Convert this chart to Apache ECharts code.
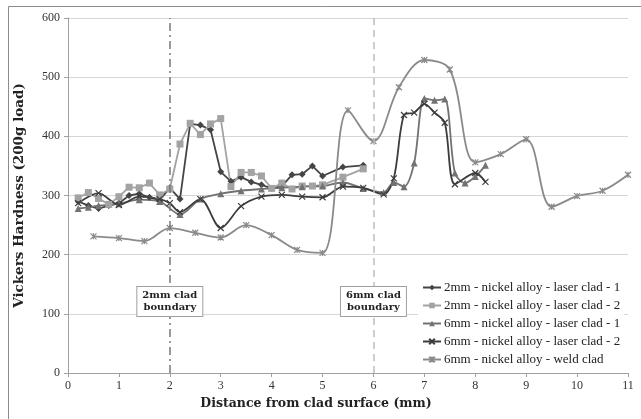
<!DOCTYPE html>
<html><head><meta charset="utf-8">
<script src="https://cdn.jsdelivr.net/npm/echarts@6/dist/echarts.min.js"></script>
<style>html,body{margin:0;padding:0;background:#fff}#c{width:641px;height:419px}</style>
</head><body><div id="c"></div>
<script>
const seriesNames = [
  '2mm - nickel alloy - laser clad - 1',
  '2mm - nickel alloy - laser clad - 2',
  '6mm - nickel alloy - laser clad - 1',
  '6mm - nickel alloy - laser clad - 2',
  '6mm - nickel alloy - weld clad'
];
const ni2_1 = [[0.2,290],[0.4,283],[0.6,278],[0.8,283],[1.0,287],[1.2,300],[1.4,303],[1.6,297],[1.8,292],[2.0,313],[2.2,294],[2.4,421],[2.6,419],[2.8,411],[3.0,340],[3.2,324],[3.4,331],[3.6,323],[3.8,318],[4.0,312],[4.2,316],[4.4,335],[4.6,336],[4.8,350],[5.0,333],[5.4,348],[5.8,351]];
const ni2_2 = [[0.2,296],[0.4,305],[0.6,295],[0.8,285],[1.0,298],[1.2,314],[1.4,313],[1.6,321],[1.8,301],[2.0,311],[2.2,387],[2.4,422],[2.6,403],[2.8,421],[3.0,430],[3.2,315],[3.4,339],[3.6,339],[3.8,333],[4.0,312],[4.2,321],[4.4,311],[4.6,316],[4.8,316],[5.0,318],[5.4,331],[5.8,345]];
const ni6_1 = [[0.2,278],[0.4,280],[0.6,283],[1.0,286],[1.4,293],[1.8,290],[2.2,268],[2.6,294],[3.0,303],[3.4,308],[3.8,311],[4.2,313],[4.6,315],[5.0,316],[5.4,322],[5.8,312],[6.2,305],[6.4,322],[6.6,315],[6.8,355],[7.0,464],[7.2,461],[7.4,463],[7.6,338],[7.8,321],[8.0,332],[8.2,351]];
const ni6_2 = [[0.2,287],[0.6,304],[1.0,284],[1.4,298],[1.8,294],[2.0,287],[2.2,272],[2.6,294],[3.0,245],[3.4,282],[3.8,298],[4.2,301],[4.6,298],[5.0,297],[5.4,315],[5.8,313],[6.2,302],[6.4,329],[6.6,436],[6.8,440],[7.0,455],[7.2,440],[7.4,423],[7.6,319],[8.0,338],[8.2,323]];
const weld = [[0.5,231],[1.0,228],[1.5,223],[2.0,245],[2.5,237],[3.0,229],[3.5,250],[4.0,233],[4.5,208],[5.0,203],[5.5,444],[6.0,392],[6.5,483],[7.0,529],[7.5,513],[8.0,356],[8.5,370],[9.0,395],[9.5,281],[10.0,299],[10.5,308],[11.0,335]];
const boundaries = [2, 6];
const boundaryLabels = ['2mm clad\nboundary', '6mm clad\nboundary'];
const xTicks = [0,1,2,3,4,5,6,7,8,9,10,11];
const yTicks = [0,100,200,300,400,500,600];

const FONT = 'Liberation Serif';
const TITLE_FONT = 'DejaVu Serif';
const X_PATH = 'path://M0,0L10,10M10,0L0,10';
const STAR_PATH = 'path://M0,0L10,10M10,0L0,10M5,0L5,10';

function mk(name, data, color, symbol, size, smooth, lw) {
  const isPath = symbol.indexOf('path') === 0;
  return {
    name, type: 'line', data, smooth: smooth,
    symbol, symbolSize: size,
    lineStyle: { color, width: lw },
    itemStyle: { color: isPath ? 'rgba(0,0,0,0)' : color, borderColor: color, borderWidth: isPath ? 1.2 : 0 },
    z: 3
  };
}

const series = [
  mk(seriesNames[0], ni2_1, '#454545', 'diamond', 7, false, 1.8),
  mk(seriesNames[1], ni2_2, '#a3a3a3', 'rect', 7, false, 1.8),
  mk(seriesNames[2], ni6_1, '#727272', 'triangle', 7, 0.3, 1.8),
  mk(seriesNames[3], ni6_2, '#3c3c3c', X_PATH, 6, 0.3, 1.8),
  mk(seriesNames[4], weld, '#8a8a8a', STAR_PATH, 6, 0.35, 1.8),
  {
    name: 'b2', type: 'line', data: [], silent: true,
    markLine: {
      symbol: 'none', silent: true,
      label: { show: false },
      data: [{ xAxis: boundaries[0], lineStyle: { color: '#7a7a7a', type: [8, 4, 2, 4], width: 1.5 } },
             { xAxis: boundaries[1], lineStyle: { color: '#bdbdbd', type: [7, 5], width: 1.5 } }]
    },
    markPoint: {
      symbol: 'rect', symbolSize: 0,
      label: {
        show: true, fontFamily: TITLE_FONT, fontWeight: 'bold', fontSize: 10, color: '#222',
        lineHeight: 12, backgroundColor: '#fff', borderColor: '#a0a0a0', borderWidth: 1, padding: [3, 5, 2, 5]
      },
      data: [{ coord: [boundaries[0], 121], label: { formatter: boundaryLabels[0] } },
             { coord: [boundaries[1], 121], label: { formatter: boundaryLabels[1] } }]
    },
    z: 2
  }
];

const chart = echarts.init(document.getElementById('c'), null, { renderer: 'canvas' });
chart.setOption({
  animation: false,
  backgroundColor: '#fff',
  graphic: [{ type: 'rect', shape: { x: 8.5, y: 6.5, width: 700, height: 500 }, style: { fill: 'none', stroke: '#8c8c8c', lineWidth: 1 }, z: -10 }],
  grid: { left: 68, right: 13, top: 18, bottom: 46 },
  legend: {
    data: seriesNames, orient: 'vertical', left: 418, top: 279,
    itemWidth: 18, itemHeight: 7, itemGap: 5,
    backgroundColor: '#fff', padding: [2, 4, 2, 4],
    textStyle: { fontFamily: FONT, fontSize: 13, color: '#222', padding: [0, 0, 0, -2] }
  },
  xAxis: {
    type: 'value', min: 0, max: 11, interval: 1,
    name: 'Distance from clad surface (mm)', nameLocation: 'middle', nameGap: 24,
    nameTextStyle: { fontFamily: TITLE_FONT, fontWeight: 'bold', fontSize: 12.5, color: '#222', padding: [0, 64, 0, 0] },
    axisLine: { lineStyle: { color: '#a0a0a0' } },
    axisTick: { show: true, length: 4, lineStyle: { color: '#a0a0a0' } },
    axisLabel: { fontFamily: FONT, fontSize: 12, color: '#333', margin: 7, formatter: v => xTicks.includes(v) ? String(v) : '' },
    splitLine: { show: false }
  },
  yAxis: {
    type: 'value', min: 0, max: 600, interval: 100,
    name: 'Vickers Hardness (200g load)', nameLocation: 'middle', nameGap: 42,
    nameTextStyle: { fontFamily: TITLE_FONT, fontWeight: 'bold', fontSize: 13.5, color: '#222' },
    axisLine: { show: true, lineStyle: { color: '#a0a0a0' } },
    axisTick: { show: true, length: 4, lineStyle: { color: '#a0a0a0' } },
    axisLabel: { fontFamily: FONT, fontSize: 12, color: '#333', margin: 8, formatter: v => yTicks.includes(v) ? String(v) : '' },
    splitLine: { lineStyle: { color: '#d6d6d6' } }
  },
  series
});
</script></body></html>
